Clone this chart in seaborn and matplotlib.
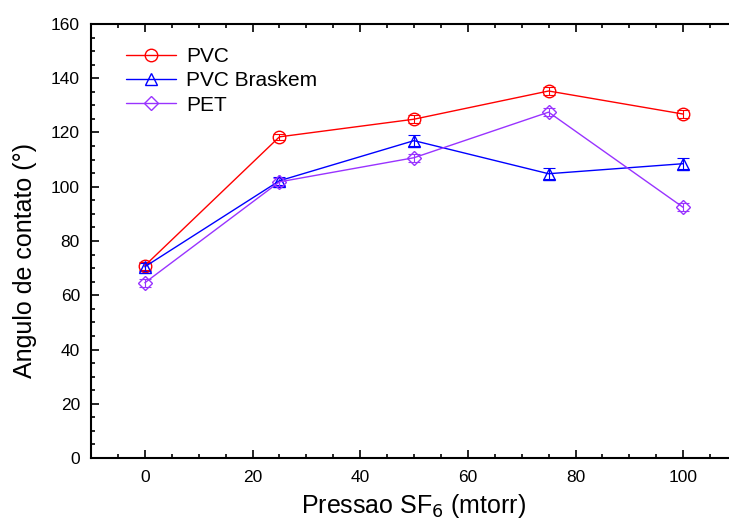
import matplotlib
matplotlib.use("Agg")
import matplotlib.pyplot as plt
import seaborn as sns
import pandas as pd
from matplotlib.ticker import MultipleLocator

pressure = [0, 25, 50, 75, 100]
pvc = [70.9, 118.4, 124.9, 135.3, 126.8]
pvc_braskem = [70.5, 102.2, 117.0, 104.8, 108.5]
pet = [64.6, 101.8, 110.7, 127.5, 92.4]
pvc_err = [1.5, 1.2, 1.5, 1.5, 1.5]
braskem_err = [1.5, 1.5, 2.0, 2.0, 2.0]
pet_err = [1.5, 1.5, 1.5, 1.5, 1.5]
series_names = ["PVC", "PVC Braskem", "PET"]
colors = ["#FF0000", "#0000FF", "#9933FF"]
markers = ["o", "^", "D"]

sns.set_style("ticks")
plt.rcParams['font.family'] = ['Liberation Sans', 'DejaVu Sans']
plt.rcParams.update({
    "text.color": "black", "axes.labelcolor": "black", "axes.edgecolor": "black",
    "xtick.color": "black", "ytick.color": "black",
})

df = pd.DataFrame({
    "x": pressure * 3,
    "y": pvc + pvc_braskem + pet,
    "err": pvc_err + braskem_err + pet_err,
    "serie": [series_names[0]] * 5 + [series_names[1]] * 5 + [series_names[2]] * 5,
})

fig = plt.figure(figsize=(7.29, 5.23), dpi=100)
ax = fig.add_axes([91 / 729, (523 - 458) / 523, (737 - 91) / 729, (458 - 24) / 523])

for name, c, m in zip(series_names, colors, markers):
    sub = df[df.serie == name]
    ax.errorbar(sub.x, sub.y, yerr=sub.err, fmt="none", ecolor=c, elinewidth=0.8,
                capsize=4, capthick=0.8, zorder=2)
    sns.lineplot(data=sub, x="x", y="y", ax=ax, color=c, marker=m, lw=1,
                 markersize=9 if m != "D" else 7.5, markerfacecolor="none",
                 markeredgecolor=c, markeredgewidth=1, label=name, zorder=3)

ax.set_xlim(-10, 110)
ax.set_ylim(0, 160)
ax.xaxis.set_major_locator(MultipleLocator(20))
ax.xaxis.set_minor_locator(MultipleLocator(5))
ax.yaxis.set_major_locator(MultipleLocator(20))
ax.yaxis.set_minor_locator(MultipleLocator(5))
ax.tick_params(which="both", direction="in", top=True, right=True, width=1.2, labelsize=12.5)
ax.tick_params(which="major", length=6)
ax.tick_params(which="minor", length=3)
ax.tick_params(axis="x", pad=9)
ax.tick_params(axis="y", pad=8)
for s in ax.spines.values():
    s.set_linewidth(1.5)

ax.set_xlabel("Pressao SF$_6$ (mtorr)", fontsize=18, labelpad=5)
ax.set_ylabel("Angulo de contato (°)", fontsize=18)
ax.yaxis.set_label_coords(-0.083, 0.456)

leg = ax.legend(loc="upper left", frameon=False, fontsize=15, bbox_to_anchor=(0.025, 0.99),
                handlelength=2.4, handletextpad=0.5, labelspacing=0.25)

fig.savefig("out.png", dpi=100)
